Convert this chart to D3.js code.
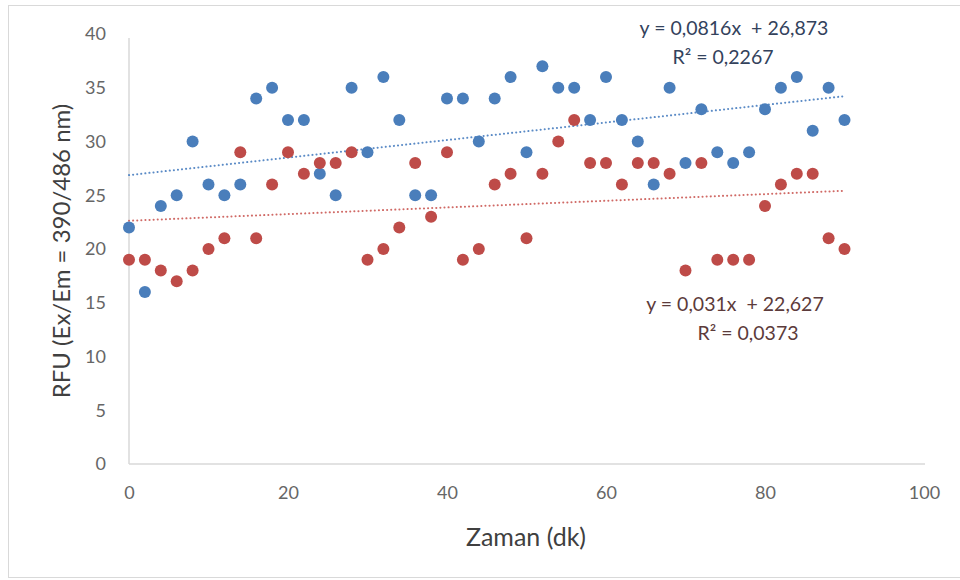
<!DOCTYPE html>
<html>
<head>
<meta charset="utf-8">
<script src="https://cdnjs.cloudflare.com/ajax/libs/d3/7.8.5/d3.min.js"></script>
<style>
  body { margin: 0; background: #fff; }
  text { font-family: Lato, "Open Sans", sans-serif; }
</style>
</head>
<body>
<svg class="chart"></svg>
<script>
// time (minutes), shared by both series
var times = [0,2,4,6,8,10,12,14,16,18,20,22,24,26,28,30,32,34,36,38,40,42,44,46,
             48,50,52,54,56,58,60,62,64,66,68,70,72,74,76,78,80,82,84,86,88,90];
var blueValues = [22,16,24,25,30,26,25,26,34,35,32,32,27,25,35,29,36,32,25,25,34,34,30,34,
                  36,29,37,35,35,32,36,32,30,26,35,28,33,29,28,29,33,35,36,31,35,32];
var redValues = [19,19,18,17,18,20,21,29,21,26,29,27,28,28,29,19,20,22,28,23,29,19,20,26,
                 27,21,27,30,32,28,28,26,28,28,27,18,28,19,19,19,24,26,27,27,21,20];
// trendline coefficients [slope, intercept]
var blueTrend = [0.0816, 26.873];
var redTrend = [0.031, 22.627];
var xTicks = [0, 20, 40, 60, 80, 100];
var yTicks = [0, 5, 10, 15, 20, 25, 30, 35, 40];

(function show() {
    'use strict';

    var width = 960, height = 580;
    var svg = d3.select(".chart").attr("width", width).attr("height", height);

    svg.append("rect")
        .attr("x", 8.5).attr("y", 5.5)
        .attr("width", 960).attr("height", 572)
        .attr("fill", "#fff").attr("stroke", "#d9d9d9");

    var x = d3.scaleLinear().domain([0, 100]).range([129, 924]);
    var y = d3.scaleLinear().domain([0, 40]).range([464, 34]);

    // axes (no tick marks, light grey lines)
    var xAxis = svg.append("g")
        .attr("transform", "translate(0," + y(0) + ")")
        .call(d3.axisBottom(x).tickValues(xTicks).tickSize(0).tickPadding(22));
    var yAxis = svg.append("g")
        .attr("transform", "translate(" + x(0) + ",0)")
        .call(d3.axisLeft(y).tickValues(yTicks).tickSize(0).tickPadding(23));

    [xAxis, yAxis].forEach(function(a) {
        a.select(".domain").attr("stroke", "#d9d9d9").attr("stroke-width", 1.5);
        a.selectAll("text").attr("fill", "#666").attr("font-size", 18)
            .style("font-family", "Lato, sans-serif");
    });
    xAxis.select(".domain").attr("d", "M" + x(0) + ",0H" + (x(100) + 1));
    yAxis.select(".domain").attr("d", "M0," + (y(40) + 4) + "V" + y(0));

    var series = [
        {values: blueValues, trend: blueTrend, color: "#4a7ebb", line: "#5b8bc6"},
        {values: redValues, trend: redTrend, color: "#be4b48", line: "#d06a66"}
    ];

    // trendlines
    series.forEach(function(s) {
        var x0 = d3.min(times), x1 = d3.max(times);
        svg.append("line")
            .attr("x1", x(x0)).attr("y1", y(s.trend[0] * x0 + s.trend[1]))
            .attr("x2", x(x1)).attr("y2", y(s.trend[0] * x1 + s.trend[1]))
            .attr("stroke", s.line)
            .attr("stroke-width", 2)
            .attr("stroke-linecap", "round")
            .attr("stroke-dasharray", "0.1,4");
    });

    // points: red drawn last (on top)
    series.forEach(function(s) {
        svg.append("g").selectAll("circle")
            .data(times.map(function(t, i) { return [t, s.values[i]]; }))
            .enter().append("circle")
            .attr("cx", function(d) { return x(d[0]); })
            .attr("cy", function(d) { return y(d[1]); })
            .attr("r", 6)
            .attr("fill", s.color);
    });

    // trendline labels
    var labels = [
        {lines: ["y = 0,0816x  + 26,873", "R\u00B2 = 0,2267"], cx: [734, 723], cy: 28, color: "#33425c"},
        {lines: ["y = 0,031x  + 22,627", "R\u00B2 = 0,0373"], cx: [735, 748], cy: 304, color: "#5c3b3b"}
    ];
    labels.forEach(function(l) {
        l.lines.forEach(function(t, i) {
            svg.append("text")
                .attr("x", l.cx[i]).attr("y", l.cy + i * 29 + 7)
                .attr("text-anchor", "middle")
                .attr("font-size", 19.5)
                .attr("fill", l.color)
                .style("white-space", "pre")
                .text(t);
        });
    });

    // axis titles
    svg.append("text")
        .attr("transform", "translate(70,251) rotate(-90)")
        .attr("text-anchor", "middle")
        .attr("font-size", 24)
        .attr("fill", "#404040")
        .text("RFU (Ex/Em = 390/486 nm)");

    svg.append("text")
        .attr("x", 526).attr("y", 546)
        .attr("text-anchor", "middle")
        .attr("font-size", 25)
        .attr("fill", "#404040")
        .text("Zaman (dk)");
})();
</script>
</body>
</html>
